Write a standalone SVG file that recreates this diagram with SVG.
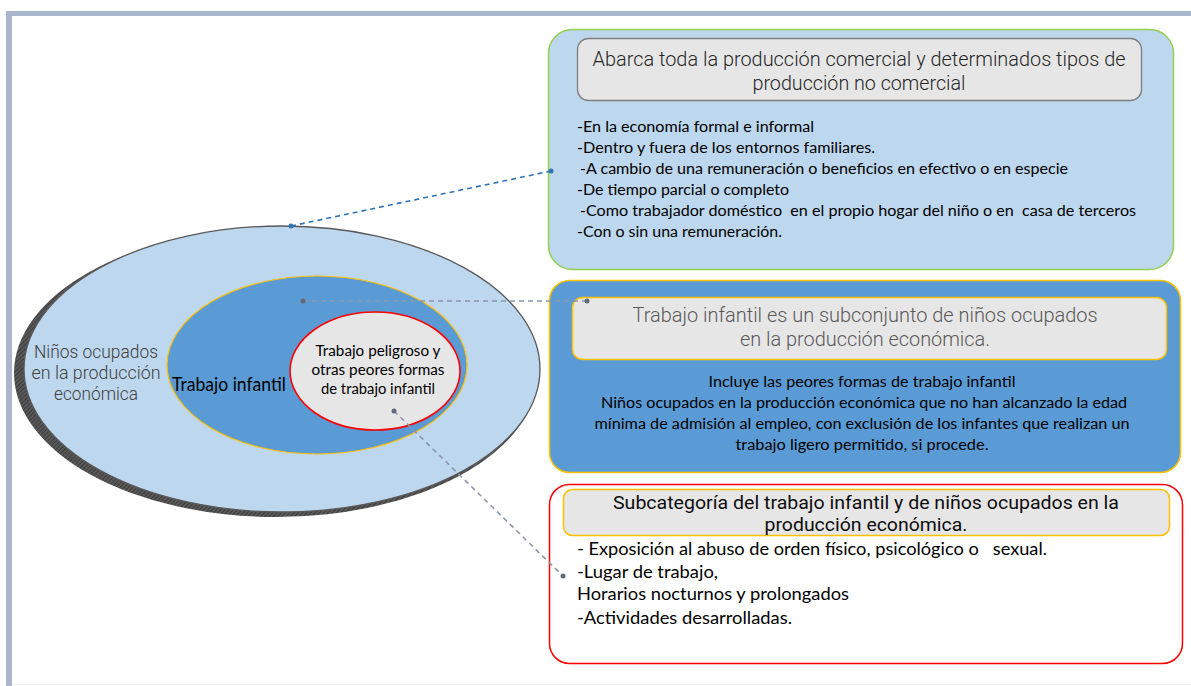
<svg xmlns="http://www.w3.org/2000/svg" width="1191" height="686" viewBox="0 0 1191 686">
<style>
.h{font-family:Roboto,"Liberation Sans",sans-serif;font-weight:300;font-size:19.5px;text-anchor:middle}
.b{font-family:Lato,"Liberation Sans",sans-serif;font-size:15.5px;fill:#000}
.c{text-anchor:middle}
.dash{fill:none;stroke-width:1.6;stroke-dasharray:5 4}
</style>
<defs>
<pattern id="hatch" width="3" height="3" patternUnits="userSpaceOnUse" patternTransform="rotate(45)">
<rect width="3" height="3" fill="#595959"/>
<line x1="0" y1="0" x2="0" y2="3" stroke="#2f2f2f" stroke-width="1.4"/>
</pattern>
</defs>
<rect width="1191" height="686" fill="#ffffff"/>
<rect x="6" y="11" width="1185" height="5" fill="#a9b6cb"/>
<rect x="6" y="11" width="6" height="675" fill="#a9b6cb"/>
<line x1="12" y1="684.5" x2="1191" y2="684.5" stroke="#eceef3" stroke-width="1"/>

<g id="ellipse-outer">
<ellipse cx="276" cy="373" rx="262" ry="144" fill="url(#hatch)"/>
<ellipse cx="282" cy="369" rx="258" ry="143" fill="#bdd7ee" stroke="#595959" stroke-width="1.3"/>
<text class="h" x="96" y="358" fill="#404040" textLength="124" lengthAdjust="spacingAndGlyphs" style="font-size:17.5px">Niños ocupados</text>
<text class="h" x="96" y="379" fill="#404040" textLength="129" lengthAdjust="spacingAndGlyphs" style="font-size:17.5px">en la producción</text>
<text class="h" x="96" y="400" fill="#404040" textLength="84" lengthAdjust="spacingAndGlyphs" style="font-size:17.5px">económica</text>
</g>
<g id="ellipse-trabajo-infantil">
<ellipse cx="317" cy="365" rx="150" ry="89" fill="#5b9bd5" stroke="#ffc000" stroke-width="1.2"/>
<text class="b" x="172" y="391" textLength="114" lengthAdjust="spacingAndGlyphs" style="font-size:18.5px" fill="#0d0d0d">Trabajo infantil</text>
</g>
<g id="ellipse-peligroso">
<ellipse cx="375" cy="371" rx="85" ry="59" fill="#e7e6e6" stroke="#ff0000" stroke-width="1.6"/>
<text class="b c" x="378" y="356" textLength="125" lengthAdjust="spacingAndGlyphs" style="font-size:14.5px">Trabajo peligroso y</text>
<text class="b c" x="378" y="375" textLength="133" lengthAdjust="spacingAndGlyphs" style="font-size:14.5px">otras peores formas</text>
<text class="b c" x="378" y="394" textLength="114" lengthAdjust="spacingAndGlyphs" style="font-size:14.5px">de trabajo infantil</text>
</g>

<g id="box-produccion">
<rect x="548.5" y="29.5" width="625" height="240" rx="24" fill="#bdd7ee" stroke="#92d050" stroke-width="1.5"/>
<rect x="577.5" y="38.5" width="564" height="62" rx="11" fill="#e7e6e6" stroke="#7f7f7f" stroke-width="1.3"/>
<text class="h" x="859" y="66" fill="#262626" textLength="533" lengthAdjust="spacingAndGlyphs">Abarca toda la producción comercial y determinados tipos de</text>
<text class="h" x="859" y="90" fill="#262626" textLength="213" lengthAdjust="spacingAndGlyphs">producción no comercial</text>
<text class="b" x="577" y="132" textLength="237" lengthAdjust="spacingAndGlyphs">-En la economía formal e informal</text>
<text class="b" x="577" y="153" textLength="298" lengthAdjust="spacingAndGlyphs">-Dentro y fuera de los entornos familiares.</text>
<text class="b" x="580" y="174" textLength="488" lengthAdjust="spacingAndGlyphs">-A cambio de una remuneración o beneficios en efectivo o en especie</text>
<text class="b" x="577" y="195" textLength="212" lengthAdjust="spacingAndGlyphs">-De tiempo parcial o completo</text>
<text class="b" x="580" y="216" textLength="556" lengthAdjust="spacingAndGlyphs" xml:space="preserve">-Como trabajador doméstico  en el propio hogar del niño o en  casa de terceros</text>
<text class="b" x="577" y="237" textLength="205" lengthAdjust="spacingAndGlyphs">-Con o sin una remuneración.</text>
</g>

<g id="box-trabajo-infantil">
<rect x="549.5" y="280.5" width="631" height="192" rx="20" fill="#5b9bd5" stroke="#ffc000" stroke-width="1.5"/>
<rect x="572.5" y="297.5" width="594" height="62" rx="10" fill="#e7e6e6" stroke="#ffc000" stroke-width="1.5"/>
<text class="h" x="865" y="322" fill="#595959" textLength="465" lengthAdjust="spacingAndGlyphs">Trabajo infantil es un subconjunto de niños ocupados</text>
<text class="h" x="865" y="346" fill="#595959" textLength="250" lengthAdjust="spacingAndGlyphs">en la producción económica.</text>
<text class="b c" x="862" y="387" textLength="307" lengthAdjust="spacingAndGlyphs">Incluye las peores formas de trabajo infantil</text>
<text class="b c" x="864" y="408" textLength="526" lengthAdjust="spacingAndGlyphs">Niños ocupados en la producción económica que no han alcanzado la edad</text>
<text class="b c" x="862" y="429" textLength="535" lengthAdjust="spacingAndGlyphs">mínima de admisión al empleo, con exclusión de los infantes que realizan un</text>
<text class="b c" x="862" y="450" textLength="253" lengthAdjust="spacingAndGlyphs">trabajo ligero permitido, si procede.</text>
</g>

<g id="box-subcategoria">
<rect x="549.5" y="484.5" width="633" height="179" rx="20" fill="#ffffff" stroke="#ff0000" stroke-width="1.5"/>
<rect x="563.5" y="489.5" width="606" height="46" rx="9" fill="#e7e6e6" stroke="#ffc000" stroke-width="1.5"/>
<text class="h" x="866" y="509" fill="#0d0d0d" textLength="506" lengthAdjust="spacingAndGlyphs" style="font-weight:400;font-size:18.5px">Subcategoría del trabajo infantil y de niños ocupados en la</text>
<text class="h" x="866" y="531" fill="#0d0d0d" textLength="203" lengthAdjust="spacingAndGlyphs" style="font-weight:400;font-size:18.5px">producción económica.</text>
<text class="b" x="577" y="555" textLength="470" lengthAdjust="spacingAndGlyphs" style="font-size:17px" xml:space="preserve">- Exposición al abuso de orden físico, psicológico o   sexual.</text>
<text class="b" x="577" y="578" textLength="141" lengthAdjust="spacingAndGlyphs" style="font-size:17px">-Lugar de trabajo,</text>
<text class="b" x="577" y="600" textLength="272" lengthAdjust="spacingAndGlyphs" style="font-size:17px">Horarios nocturnos y prolongados</text>
<text class="b" x="577" y="624" textLength="215" lengthAdjust="spacingAndGlyphs" style="font-size:17px">-Actividades desarrolladas.</text>
</g>

<g id="connectors">
<line class="dash" x1="291" y1="226" x2="551" y2="171" stroke="#2e75b6"/>
<circle cx="291" cy="226" r="2.5" fill="#2e75b6"/>
<circle cx="551" cy="171" r="2.5" fill="#2e75b6"/>
<line class="dash" x1="303" y1="301" x2="587" y2="301" stroke="#8c97a8"/>
<circle cx="303" cy="301" r="2.5" fill="#5f6b7c"/>
<circle cx="587" cy="301" r="2.5" fill="#5f6b7c"/>
<line class="dash" x1="394" y1="411" x2="563" y2="576" stroke="#8c97a8" stroke-width="1.3"/>
<circle cx="394" cy="411" r="2.5" fill="#5f6b7c"/>
<circle cx="563" cy="576" r="2.5" fill="#5f6b7c"/>
</g>
</svg>
